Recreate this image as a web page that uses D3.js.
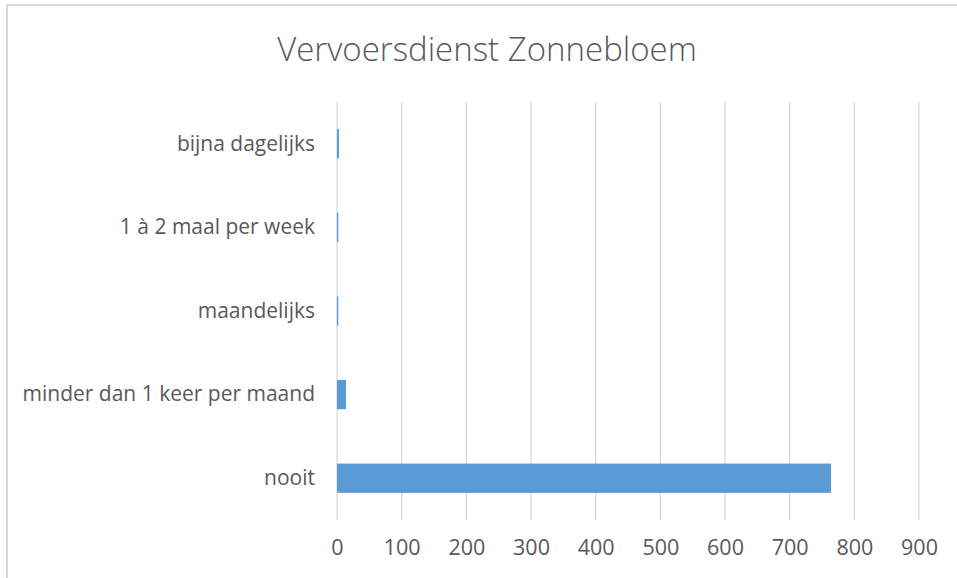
<!DOCTYPE html>
<html>
<head>
<meta charset="utf-8">
<script src="https://cdn.jsdelivr.net/npm/d3@7"></script>
<style>
  body { margin: 0; background: #fff; }
  text { font-family: "Open Sans", Lato, sans-serif; fill: #595959; }
</style>
</head>
<body>
<svg id="chart" width="957" height="578"></svg>
<script>
// categories top to bottom, as shown
var categories = ["bijna dagelijks", "1 à 2 maal per week", "maandelijks", "minder dan 1 keer per maand", "nooit"];
var values = [3, 2, 2, 14, 764];
var xTicks = [0, 100, 200, 300, 400, 500, 600, 700, 800, 900];
var title = "Vervoersdienst Zonnebloem";

var svg = d3.select("#chart");
var margin = {top: 102, right: 38, bottom: 58, left: 337};

// outer chart border (only top and left visible)
svg.append("path")
	.attr("d", "M7,578 V5 H957")
	.attr("fill", "none")
	.attr("stroke", "#d9d9d9")
	.attr("stroke-width", 2);

svg.append("text")
	.attr("x", 487)
	.attr("y", 61)
	.attr("text-anchor", "middle")
	.style("font-size", "33px")
	.style("font-weight", 300)
	.text(title);

var x = d3.scaleLinear().domain([0, 900]).range([0, 582]);
var y = d3.scaleBand().domain(categories).range([0, 418]).paddingInner(0.65).paddingOuter(0.325);

var g = svg.append("g").attr("transform", "translate(" + margin.left + "," + margin.top + ")");

// gridlines
g.selectAll("line.grid").data(xTicks).enter().append("line")
	.attr("class", "grid")
	.attr("x1", function(d) { return x(d); })
	.attr("x2", function(d) { return x(d); })
	.attr("y1", 0)
	.attr("y2", 418)
	.attr("stroke", "#d9d9d9")
	.attr("stroke-width", 1.3);

g.selectAll("rect.bar").data(values).enter().append("rect")
	.attr("class", "bar")
	.attr("x", x(0))
	.attr("y", function(d, i) { return y(categories[i]); })
	.attr("width", function(d) { return x(d) - x(0); })
	.attr("height", y.bandwidth())
	.attr("fill", "#5b9bd5");

// x axis labels
var xAxis = d3.axisBottom(x).tickValues(xTicks).tickSize(0).tickPadding(20);
var xg = g.append("g").attr("transform", "translate(0,418)").call(xAxis);
xg.select(".domain").remove();
xg.selectAll("text").style("font-size", "21.5px").style("font-family", null);

// y axis labels
var yAxis = d3.axisLeft(y).tickSize(0).tickPadding(22);
var yg = g.append("g").call(yAxis);
yg.select(".domain").remove();
yg.selectAll("text").style("font-size", "21px").style("font-family", null);
</script>
</body>
</html>
